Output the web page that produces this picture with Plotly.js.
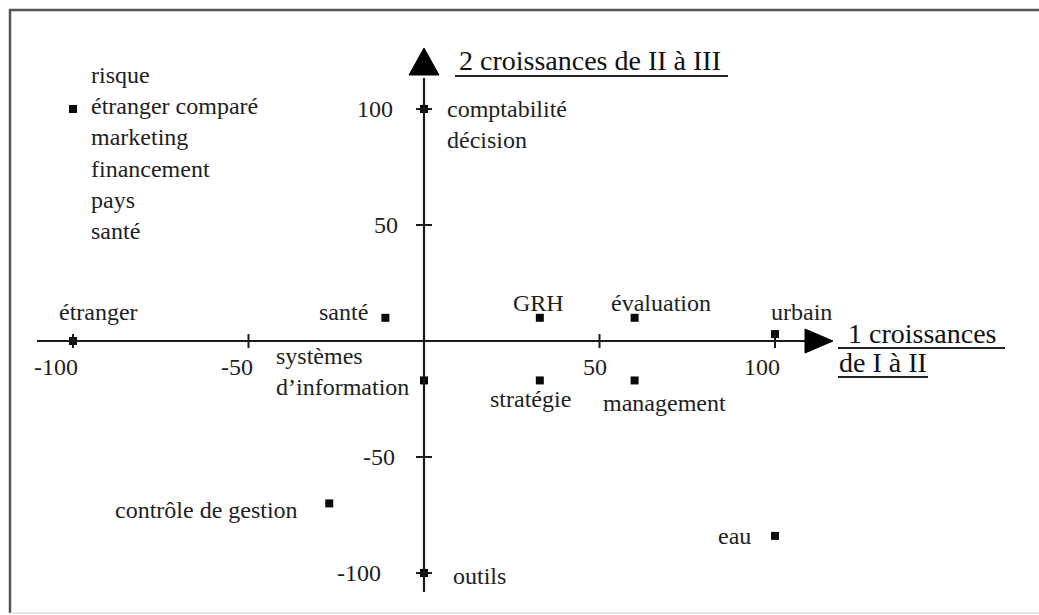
<!DOCTYPE html>
<html>
<head>
<meta charset="utf-8">
<script src="https://cdn.plot.ly/plotly-3.0.1.min.js"></script>
<style>html,body{margin:0;padding:0;background:#fff;}#chart{width:1039px;height:615px;}</style>
</head>
<body>
<div id="chart"></div>
<script>
// ---- data ----
const pointLabels = [
  "risque<br>étranger comparé<br>marketing<br>financement<br>pays<br>santé",
  "comptabilité<br>décision",
  "étranger",
  "santé",
  "GRH",
  "évaluation",
  "urbain",
  "systèmes<br>d’information",
  "stratégie",
  "management",
  "contrôle de gestion",
  "eau",
  "outils"
];
const xValues = [-100, 0, -100, -11, 33, 60, 100, 0, 33, 60, -27, 100, 0];
const yValues = [100, 100, 0, 10, 10, 10, 3, -17, -17, -17, -70, -84, -100];
const xTickValues = [-100, -50, 50, 100];
const xTickLabels = ["-100", "-50", "50", "100"];
const yTickValues = [-100, -50, 50, 100];
const yTickLabels = ["-100", "-50", "50", "100"];
const xAxisTitle = ["1 croissances", "de I à II"];
const yAxisTitle = "2 croissances de II à III";

// ---- presentation ----
const W = 1039, H = 615;
const FONT = "'Liberation Serif', 'Times New Roman', serif";
const TXT = "#1e1e1e";
const LBL = 24;
const TTL = 28;

// label placement: [xanchor, yanchor, xshift, yshift, align]
const labelPlacement = [
  ["left", "middle", 16, -44, "left"],
  ["left", "middle", 21, -15, "left"],
  ["center", "middle", 25, 29, "center"],
  ["right", "middle", -15, 6, "right"],
  ["center", "middle", -1, 15, "center"],
  ["center", "middle", 26, 15, "center"],
  ["center", "middle", 26, 22, "center"],
  ["right", "middle", -13, 9, "left"],
  ["center", "middle", -9, -19, "center"],
  ["center", "middle", 30, -23, "center"],
  ["right", "middle", -29, -7, "right"],
  ["right", "middle", -22, 0, "right"],
  ["left", "middle", 27, -3, "left"]
];
const xTickShift = [-17, -12, -5, -13];
const yTickShift = [-41, -27, -24, -29];

const xRange = [-424 / 3.51, (W - 424) / 3.51];
const yRange = [-(H - 341) / 2.32, 341 / 2.32];
const px = v => v / W;             // pixel -> paper x
const py = v => 1 - v / H;         // pixel -> paper y

const annotations = [];
pointLabels.forEach((t, i) => {
  const p = labelPlacement[i];
  annotations.push({
    x: xValues[i], y: yValues[i], xref: "x", yref: "y", text: t, showarrow: false,
    xanchor: p[0], yanchor: p[1], xshift: p[2], yshift: p[3], align: p[4],
    font: {family: FONT, size: LBL, color: TXT}
  });
});
xTickValues.forEach((v, i) => {
  annotations.push({x: v, y: 0, xref: "x", yref: "y", text: xTickLabels[i], showarrow: false,
    xanchor: "center", yanchor: "middle", xshift: xTickShift[i], yshift: -26,
    font: {family: FONT, size: LBL, color: TXT}});
});
yTickValues.forEach((v, i) => {
  annotations.push({x: 0, y: v, xref: "x", yref: "y", text: yTickLabels[i], showarrow: false,
    xanchor: "right", yanchor: "middle", xshift: yTickShift[i], yshift: 0,
    font: {family: FONT, size: LBL, color: TXT}});
});
annotations.push({x: px(457), y: py(61), xref: "paper", yref: "paper", text: yAxisTitle,
  showarrow: false, xanchor: "left", yanchor: "middle",
  font: {family: FONT, size: TTL, color: "#111"}});
annotations.push({x: px(846), y: py(333), xref: "paper", yref: "paper", text: xAxisTitle[0],
  showarrow: false, xanchor: "left", yanchor: "middle",
  font: {family: FONT, size: TTL, color: "#111"}});
annotations.push({x: px(837), y: py(362), xref: "paper", yref: "paper", text: xAxisTitle[1],
  showarrow: false, xanchor: "left", yanchor: "middle",
  font: {family: FONT, size: TTL, color: "#111"}});

const AX = {color: "#1a1a1a", width: 2.2};
const FR = {color: "#555", width: 2.5};
const shapes = [
  // frame (top, left, bottom)
  {type: "line", xref: "paper", yref: "paper", x0: px(9), x1: 1, y0: py(10), y1: py(10), line: FR},
  {type: "line", xref: "paper", yref: "paper", x0: px(10), x1: px(10), y0: py(9), y1: py(613), line: FR},
  {type: "line", xref: "paper", yref: "paper", x0: px(10), x1: 1, y0: py(613), y1: py(613),
   line: {color: "#ddd", width: 1.5}},
  // horizontal axis
  {type: "line", xref: "x", yref: "y", x0: (37 - 424) / 3.51, x1: (808 - 424) / 3.51, y0: 0, y1: 0, line: AX},
  {type: "path", xref: "x", yref: "y", xsizemode: "pixel", ysizemode: "pixel",
   xanchor: (805 - 424) / 3.51, yanchor: 0, path: "M0,-12 L28,0 L0,12 Z",
   fillcolor: "#000", line: {color: "#000", width: 1}},
  // vertical axis
  {type: "line", xref: "x", yref: "y", x0: 0, x1: 0, y0: -(592 - 341) / 2.32, y1: (341 - 78) / 2.32, line: AX},
  {type: "path", xref: "x", yref: "y", xsizemode: "pixel", ysizemode: "pixel",
   xanchor: 0, yanchor: (341 - 75) / 2.32, path: "M-15,0 L15,0 L0,27 Z",
   fillcolor: "#000", line: {color: "#000", width: 1}},
  // title underlines
  {type: "line", xref: "paper", yref: "paper", x0: px(455), x1: px(728), y0: py(76), y1: py(76),
   line: {color: "#222", width: 2}},
  {type: "line", xref: "paper", yref: "paper", x0: px(838), x1: px(1005), y0: py(348), y1: py(348),
   line: {color: "#222", width: 2}},
  {type: "line", xref: "paper", yref: "paper", x0: px(838), x1: px(928), y0: py(377), y1: py(377),
   line: {color: "#222", width: 2}}
];
xTickValues.forEach(v => shapes.push({type: "line", xref: "x", yref: "y", ysizemode: "pixel", yanchor: 0,
  x0: v, x1: v, y0: -7, y1: 7, line: {color: "#1a1a1a", width: 2}}));
yTickValues.forEach(v => shapes.push({type: "line", xref: "x", yref: "y", xsizemode: "pixel", xanchor: 0,
  y0: v, y1: v, x0: -8, x1: 8, line: {color: "#1a1a1a", width: 2}}));

const trace = {
  type: "scatter", mode: "markers", x: xValues, y: yValues, hoverinfo: "none",
  marker: {symbol: "square", size: 8, color: "#0a0a0a", line: {width: 0}}
};

const layout = {
  width: W, height: H, margin: {l: 0, r: 0, t: 0, b: 0, pad: 0},
  paper_bgcolor: "#fff", plot_bgcolor: "#fff", showlegend: false,
  xaxis: {range: xRange, visible: false, showgrid: false, zeroline: false, fixedrange: true},
  yaxis: {range: yRange, visible: false, showgrid: false, zeroline: false, fixedrange: true},
  annotations: annotations, shapes: shapes
};
Plotly.newPlot("chart", [trace], layout, {staticPlot: true, displayModeBar: false});
</script>
</body>
</html>
